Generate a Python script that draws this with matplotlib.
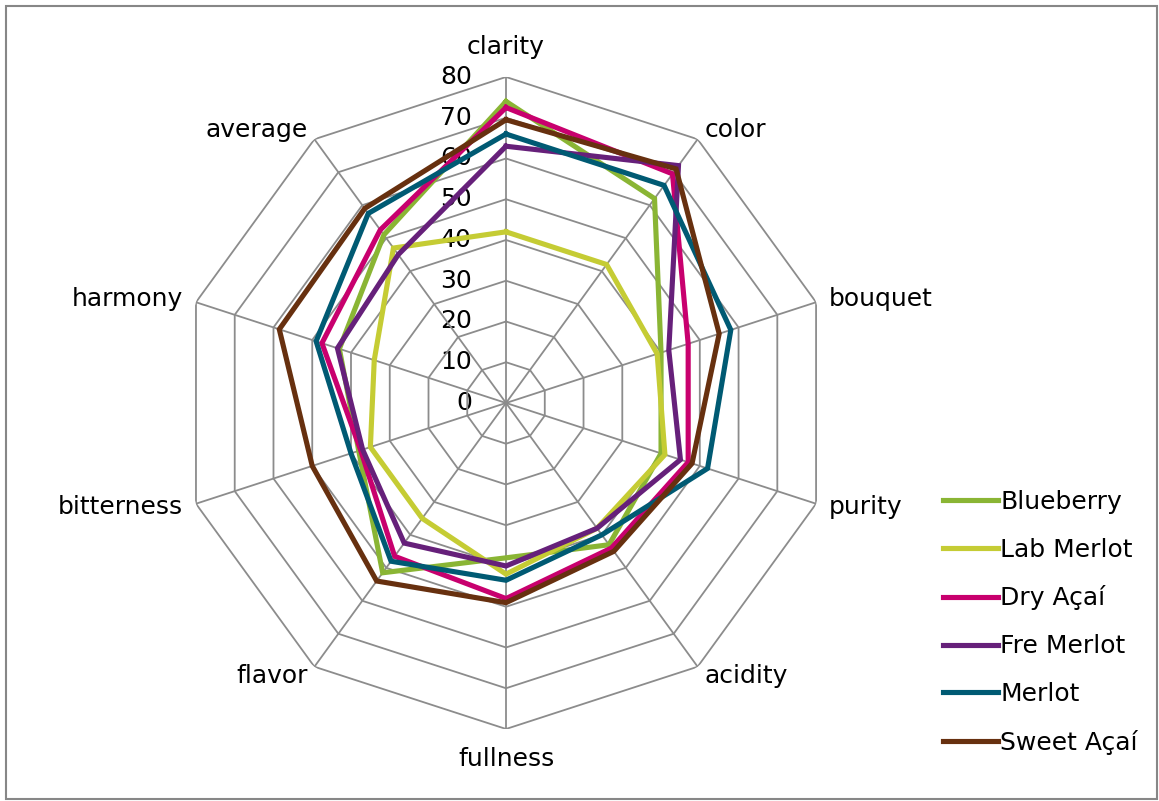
import numpy as np
import matplotlib.pyplot as plt
from matplotlib.patches import Rectangle

plt.rcParams["font.family"] = "DejaVu Sans"

# Tasting scores per attribute
attributes = ["clarity", "color", "bouquet", "purity", "acidity",
              "fullness", "flavor", "bitterness", "harmony", "average"]
blueberry = [74, 62, 40, 40, 43, 38, 51.5, 38, 43, 51]
lab_merlot = [42, 42, 39, 41, 38, 42, 35, 35, 34, 47]
dry_acai = [72.5, 69.5, 47, 47, 44, 48, 46.5, 37.5, 47.5, 52.5]
fre_merlot = [63, 72, 42, 45, 38, 40, 42.5, 37, 43.5, 45]
merlot = [66, 66, 58, 52, 40, 43.5, 48, 40, 49, 57.5]
sweet_acai = [69.5, 71, 55, 48, 45, 49, 54, 50, 58.5, 59]

series = ["Blueberry", "Lab Merlot", "Dry Açaí", "Fre Merlot", "Merlot", "Sweet Açaí"]
values = [blueberry, lab_merlot, dry_acai, fre_merlot, merlot, sweet_acai]
colors = ["#8AB534", "#C5CC34", "#C8006E", "#66207A", "#005A73", "#67300F"]

levels = [0, 10, 20, 30, 40, 50, 60, 70, 80]
rmax = 80
fs = 18

n = len(attributes)
angles = np.linspace(0, 2 * np.pi, n, endpoint=False)
closed = np.append(angles, angles[0])

fig = plt.figure(figsize=(11.59, 8.01), dpi=100)
ax = fig.add_axes([0.1553, 0.0899, 0.5626, 0.814], projection="polar")
ax.set_theta_offset(np.pi / 2)
ax.set_theta_direction(-1)
ax.set_ylim(0, rmax)
ax.grid(False)
ax.spines["polar"].set_visible(False)
ax.set_xticks([])
ax.set_yticks([])
ax.patch.set_visible(False)

grid_color = "#8C8C8C"
# Polygon rings and spokes
for lv in levels[1:]:
    ax.plot(closed, [lv] * (n + 1), color=grid_color, lw=1.3, zorder=1)
for a in angles:
    ax.plot([a, a], [0, rmax], color=grid_color, lw=1.3, zorder=1)

# Radial scale labels along the first spoke
for lv in levels:
    ax.annotate(str(lv), xy=(0, lv), xytext=(-34, 0), textcoords="offset pixels",
                ha="right", va="center", fontsize=fs, color="black", zorder=0)

# Attribute labels around the outside
for a, name in zip(angles, attributes):
    s, c = np.sin(a), np.cos(a)
    if abs(c) > 0.9:
        ha, dx, dy = "center", 0, 30 * np.sign(c)
    else:
        ha = "left" if s > 0 else "right"
        dx = np.sign(s) * (7 if abs(c) > 0.5 else 13)
        dy = 11 * c
    ax.annotate(name, xy=(a, rmax), xytext=(dx, dy), textcoords="offset pixels",
                ha=ha, va="center", fontsize=fs, annotation_clip=False)

handles = []
for name, vals, col in zip(series, values, colors):
    h, = ax.plot(closed, list(vals) + [vals[0]], color=col, lw=3.7,
                 solid_joinstyle="miter", label=name, zorder=3)
    handles.append(h)

fig.legend(handles=handles, loc="upper left", bbox_to_anchor=(943 / 1159, 1 - 490 / 801),
           frameon=False, fontsize=fs, handlelength=2.2, handletextpad=0.1,
           labelspacing=0.95, borderpad=0, borderaxespad=0)

fig.patches.append(Rectangle((6 / 1159, 2 / 801), 1151 / 1159, 793 / 801,
                             transform=fig.transFigure, fill=False,
                             edgecolor="#878787", lw=1.5))

fig.savefig("out.png", dpi=100)
